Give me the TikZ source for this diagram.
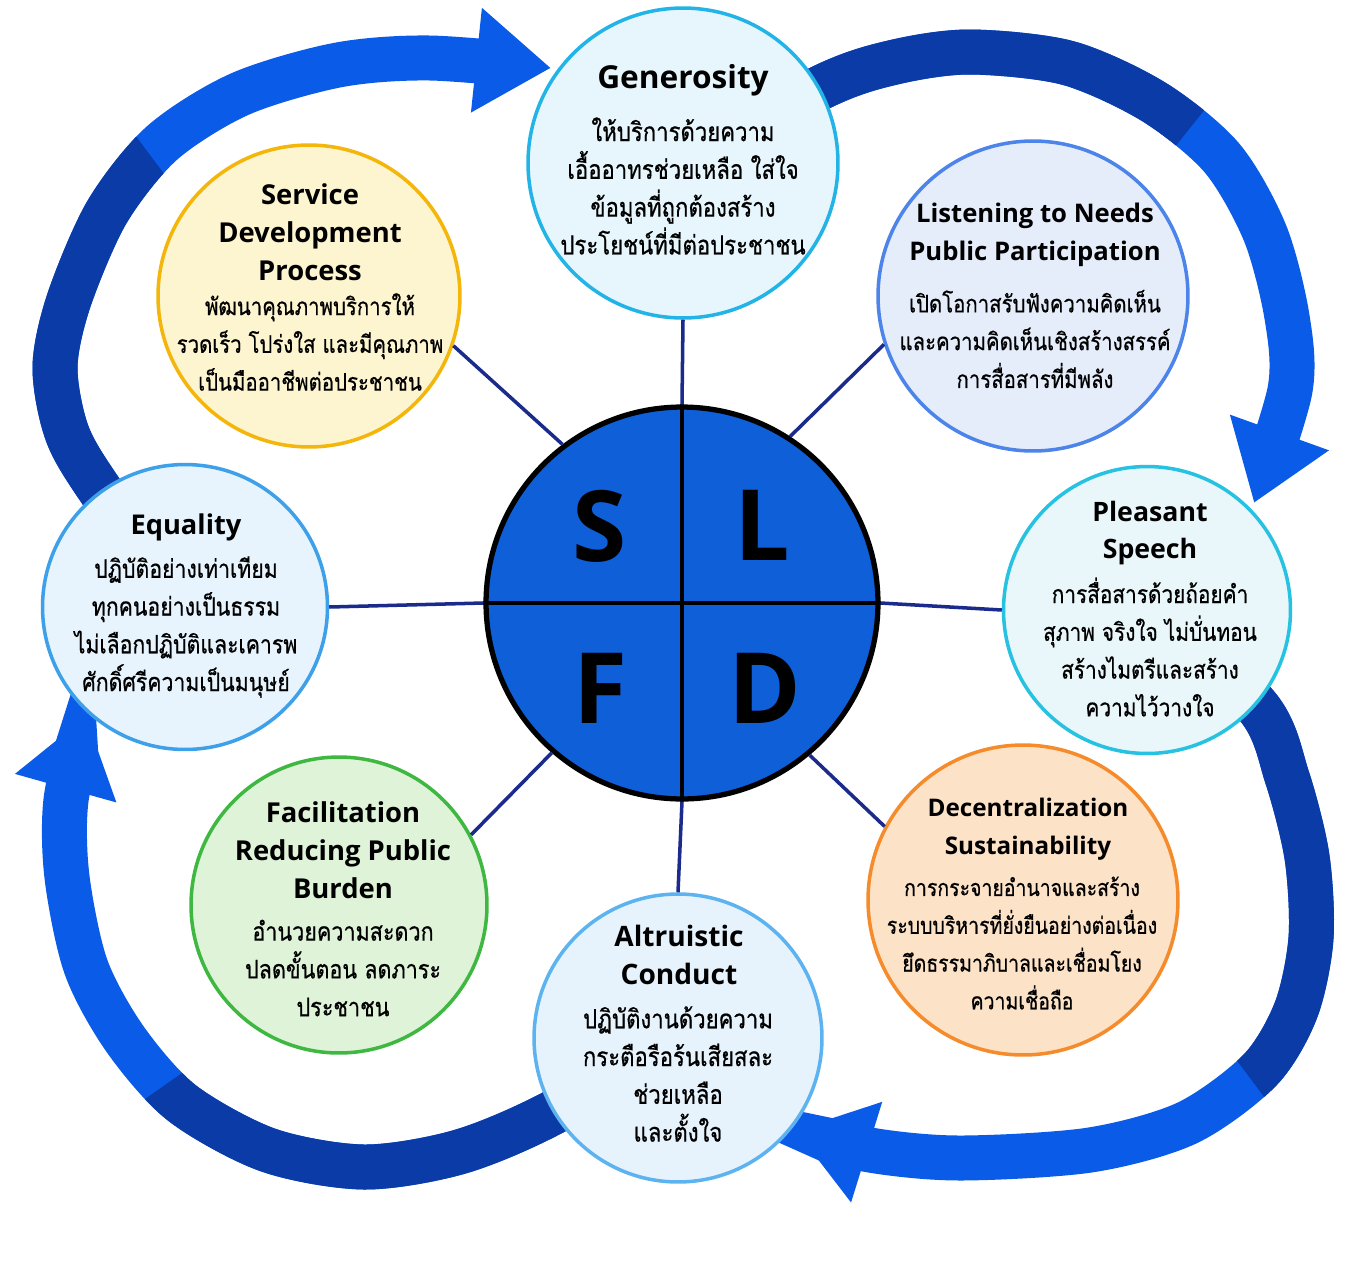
\documentclass[tikz,border=0pt]{standalone}
\usepackage{fontspec}
\usepackage{tikz}
\usetikzlibrary{arrows.meta,backgrounds}
\setmainfont{Open Sans}
\newfontfamily\headfont{Open Sans}
\newfontfamily\thaifont[Script=Thai,FakeStretch=0.84,FakeBold=0.6]{Loma}

\definecolor{genline}{HTML}{22B4E6}
\definecolor{genfill}{HTML}{E7F6FC}
\definecolor{lisline}{HTML}{4C84EA}
\definecolor{lisfill}{HTML}{E5EDFB}
\definecolor{svcline}{HTML}{F4B60A}
\definecolor{svcfill}{HTML}{FDF5D0}
\definecolor{equline}{HTML}{3FA0EA}
\definecolor{equfill}{HTML}{E7F4FD}
\definecolor{pleline}{HTML}{27C2E2}
\definecolor{plefill}{HTML}{E9F7FB}
\definecolor{decline}{HTML}{F68B2C}
\definecolor{decfill}{HTML}{FCE2C6}
\definecolor{facline}{HTML}{3EB841}
\definecolor{facfill}{HTML}{DFF3D9}
\definecolor{altline}{HTML}{5DB3EF}
\definecolor{altfill}{HTML}{E7F3FC}
\definecolor{corefill}{HTML}{0E5FD8}
\definecolor{spokeblue}{HTML}{1A2B8C}
\definecolor{arcbright}{HTML}{0A5BE8}
\definecolor{arcdark}{HTML}{0B3BA6}

% the four sweeps of the cycle
\newcommand\sweepA{plot[smooth] coordinates {(equ) (100,490) (67,433) (55,367) (69,300) (107,212) (162,143) (240,94) (338,65) (430,58) (tipa)}}
\newcommand\sweepB{plot[smooth] coordinates {(gen) (824,86) (895,62) (970,52) (1068,63) (1154,102) (1222,158) (1265,233) (1287,317) (1290,390) (tipb)}}
\newcommand\sweepC{plot[smooth] coordinates {(ple) (1257,706) (1287,777) (1307,857) (1311,938) (1296,1010) (1260,1070) (1187,1123) (1090,1150) (960,1158) (870,1150) (tipc)}}
\newcommand\sweepD{plot[smooth] coordinates {(alt) (552,1113) (459,1152) (364,1167) (268,1150) (182,1103) (125,1039) (86,967) (67,877) (66,800) (tipd)}}

\begin{document}
\begin{tikzpicture}[x=0.02cm,y=-0.02cm,
    bubble/.style={circle,line width=2pt,inner sep=0pt},
    head/.style={align=center,inner sep=0pt,font={\headfont\bfseries\fontsize{#1}{21.5}\selectfont}},
    body/.style={align=center,inner sep=0pt,font={\thaifont\fontsize{#1}{21.5}\selectfont\lineskiplimit=-50pt}},
    letter/.style={inner sep=0pt,font={\headfont\bfseries\fontsize{56}{60}\selectfont}},
    spoke/.style={draw=spokeblue,line width=2pt},
    bright/.style={draw=arcbright,line width=0.9cm,-{Triangle[width=2cm,length=1.5cm]}},
    dark/.style={draw=arcdark,line width=0.9cm}]
    \useasboundingbox (0,0) rectangle (1352,1272);

    % bubbles
    \node[bubble,draw=genline,fill=genfill,minimum size=6.2cm] (gen) at (683,163) {};
    \node[bubble,draw=lisline,fill=lisfill,minimum size=6.2cm] (lis) at (1033,296) {};
    \node[bubble,draw=svcline,fill=svcfill,minimum size=6.04cm] (svc) at (309,296) {};
    \node[bubble,draw=equline,fill=equfill,minimum size=5.7cm] (equ) at (185,607) {};
    \node[bubble,draw=pleline,fill=plefill,minimum size=5.74cm] (ple) at (1147,610) {};
    \node[bubble,draw=decline,fill=decfill,minimum size=6.2cm] (dec) at (1023,900) {};
    \node[bubble,draw=facline,fill=facfill,minimum size=5.92cm] (fac) at (339,905) {};
    \node[bubble,draw=altline,fill=altfill,minimum size=5.76cm] (alt) at (678,1038) {};

    % core with its four letters
    \node[circle,draw=black,line width=3pt,fill=corefill,minimum size=7.84cm] (core) at (682,603) {};
    \draw[black,line width=2.5pt] (core.north) -- (core.south);
    \draw[black,line width=2.5pt] (core.west) -- (core.east);
    \node[letter] (s) at (600,526) {S};
    \node[letter] (l) at (762,525) {L};
    \node[letter] (f) at (600,688) {F};
    \node[letter] (d) at (765,688) {D};

    \draw[spoke] (core.north) -- (gen.south);
    \draw[spoke] (core.57) -- (lis.198);
    \draw[spoke] (core.east) -- (ple.west);
    \draw[spoke] (core.310) -- (dec.152);
    \draw[spoke] (core.south) -- (alt.north);
    \draw[spoke] (core.229) -- (fac.28);
    \draw[spoke] (core.west) -- (equ.east);
    \draw[spoke] (core.127) -- (svc.341);

    % texts
    \node[head=18] (gen-h) at (683,80) {Generosity};
    \node[body=15] (gen-b) at (683,186) {ให้บริการด้วยความ\\เอื้ออาทรช่วยเหลือ ใส่ใจ\\ข้อมูลที่ถูกต้องสร้าง\\ประโยชน์ที่มีต่อประชาชน};
    \node[head=14.6] (lis-h) at (1035,235) {Listening to Needs\\Public Participation};
    \node[body=13.8] (lis-b) at (1035,339) {เปิดโอกาสรับฟังความคิดเห็น\\และความคิดเห็นเชิงสร้างสรรค์\\การสื่อสารที่มีพลัง};
    \node[head=15.6] (svc-h) at (310,232) {Service\\Development\\Process};
    \node[body=13.8] (svc-b) at (310,342) {พัฒนาคุณภาพบริการให้\\รวดเร็ว โปร่งใส และมีคุณภาพ\\เป็นมืออาชีพต่อประชาชน};
    \node[head=15.5] (equ-h) at (186,527) {Equality};
    \node[body=14.4] (equ-b) at (186,627) {ปฏิบัติอย่างเท่าเทียม\\ทุกคนอย่างเป็นธรรม\\ไม่เลือกปฏิบัติและเคารพ\\ศักดิ์ศรีความเป็นมนุษย์};
    \node[head=15.2] (ple-h) at (1150,533) {Pleasant\\Speech};
    \node[body=14.1] (ple-b) at (1150,647) {การสื่อสารด้วยถ้อยคำ\\สุภาพ จริงใจ ไม่บั่นทอน\\สร้างไมตรีและสร้าง\\ความไว้วางใจ};
    \node[head=13.8] (dec-h) at (1028,829) {Decentralization\\Sustainability};
    \node[body=13.2] (dec-b) at (1022,943) {การกระจายอำนาจและสร้าง\\ระบบบริหารที่ยั่งยืนอย่างต่อเนื่อง\\ยึดธรรมาภิบาลและเชื่อมโยง\\ความเชื่อถือ};
    \node[head=15.6] (fac-h) at (343,850) {Facilitation\\Reducing Public\\Burden};
    \node[body=14.6] (fac-b) at (343,968) {อำนวยความสะดวก\\ปลดขั้นตอน ลดภาระ\\ประชาชน};
    \node[head=16] (alt-h) at (679,955) {Altruistic\\Conduct};
    \node[body=15] (alt-b) at (678,1074) {ปฏิบัติงานด้วยความ\\กระตือรือร้นเสียสละ\\ช่วยเหลือ\\และตั้งใจ};

    % arrow tips of the cycle
    \coordinate (tipa) at (551,68);
    \coordinate (tipb) at (1254,503);
    \coordinate (tipc) at (795,1130);
    \coordinate (tipd) at (86,716);

    \begin{scope}[on background layer]
        \fill[white] (0,0) rectangle (1352,1272);
        \draw[bright] \sweepA;
        \draw[bright] \sweepB;
        \draw[bright] \sweepC;
        \draw[bright] \sweepD;
        \begin{scope}
            \clip (0,-45) -- (450,555) -- (450,700) -- (-100,700) -- (-100,-45) -- cycle;
            \draw[dark] \sweepA;
        \end{scope}
        \begin{scope}
            \clip (1430,-172) -- (950,428) -- (600,428) -- (600,-172) -- cycle;
            \draw[dark] \sweepB;
        \end{scope}
        \begin{scope}
            \clip (950,678) -- (1475,1378) -- (1500,1378) -- (1500,600) -- (950,600) -- cycle;
            \draw[dark] \sweepC;
        \end{scope}
        \begin{scope}
            \clip (-135,1295) -- (465,875) -- (700,875) -- (700,1300) -- (-135,1300) -- cycle;
            \draw[dark] \sweepD;
        \end{scope}
    \end{scope}
\end{tikzpicture}
\end{document}
